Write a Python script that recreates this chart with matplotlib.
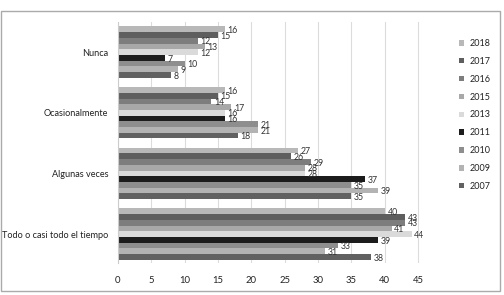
import matplotlib
matplotlib.use("Agg")
import matplotlib.pyplot as plt
from matplotlib.patches import Patch, Rectangle
import numpy as np

plt.rcParams['font.family'] = ['Lato', 'DejaVu Sans']

categories = ["Nunca", "Ocasionalmente", "Algunas veces", "Todo o casi todo el tiempo"]
years = ["2018", "2017", "2016", "2015", "2013", "2011", "2010", "2009", "2007"]
colors = ["#b8b8b8", "#5e5e5e", "#7d7d7d", "#a8a8a8", "#dadada",
          "#1c1c1c", "#8e8e8e", "#b3b3b3", "#616161"]

# values per year, one entry per category (Nunca, Ocasionalmente, Algunas veces, Todo...)
v2018 = [16, 16, 27, 40]
v2017 = [15, 15, 26, 43]
v2016 = [12, 14, 29, 43]
v2015 = [13, 17, 28, 41]
v2013 = [12, 16, 28, 44]
v2011 = [7, 16, 37, 39]
v2010 = [10, 21, 35, 33]
v2009 = [9, 21, 39, 31]
v2007 = [8, 18, 35, 38]
series = [v2018, v2017, v2016, v2015, v2013, v2011, v2010, v2009, v2007]

fig = plt.figure(figsize=(5.04, 2.95), dpi=100)
ax = fig.add_axes([0.234, 0.108, 0.609, 0.817])

bar_h = 0.094
y = np.arange(len(categories))
n = len(series)
for i, (vals, col) in enumerate(zip(series, colors)):
    ypos = y - (n - 1) / 2 * bar_h + i * bar_h
    ax.barh(ypos, vals, height=bar_h, color=col, zorder=2)
    for yy, v in zip(ypos, vals):
        ax.text(v + 0.4, yy + 0.02, str(v), fontsize=6.3, color="#333333",
                va="center", ha="left", zorder=3)

ax.set_xlim(0, 46)
ax.set_ylim(3.478, -0.494)
ax.set_xticks(range(0, 50, 5))
ax.set_yticks(y)
ax.set_yticklabels(categories, fontsize=6.6, color="#222222")
ax.tick_params(axis="x", length=0, pad=9, labelsize=6.8, labelcolor="#222222")
ax.tick_params(axis="y", length=0, pad=7)
ax.grid(axis="x", color="#dcdcdc", lw=0.8, zorder=0)
for s in ["top", "right", "bottom"]:
    ax.spines[s].set_visible(False)
ax.spines["left"].set_color("#cccccc")

handles = [Patch(facecolor=c, edgecolor="none") for c in colors]
fig.legend(handles, years, loc="upper left", bbox_to_anchor=(0.895, 0.895),
           frameon=False, fontsize=6.5, handlelength=0.55, handleheight=0.55,
           handletextpad=0.6, labelspacing=0.98, labelcolor="#222222")

fig.patches.append(Rectangle((1 / 504, 1 - 291 / 295), 499 / 504, 280 / 295,
                             transform=fig.transFigure, fill=False,
                             edgecolor="#aaaaaa", lw=1))

fig.savefig("out.png", dpi=100)
